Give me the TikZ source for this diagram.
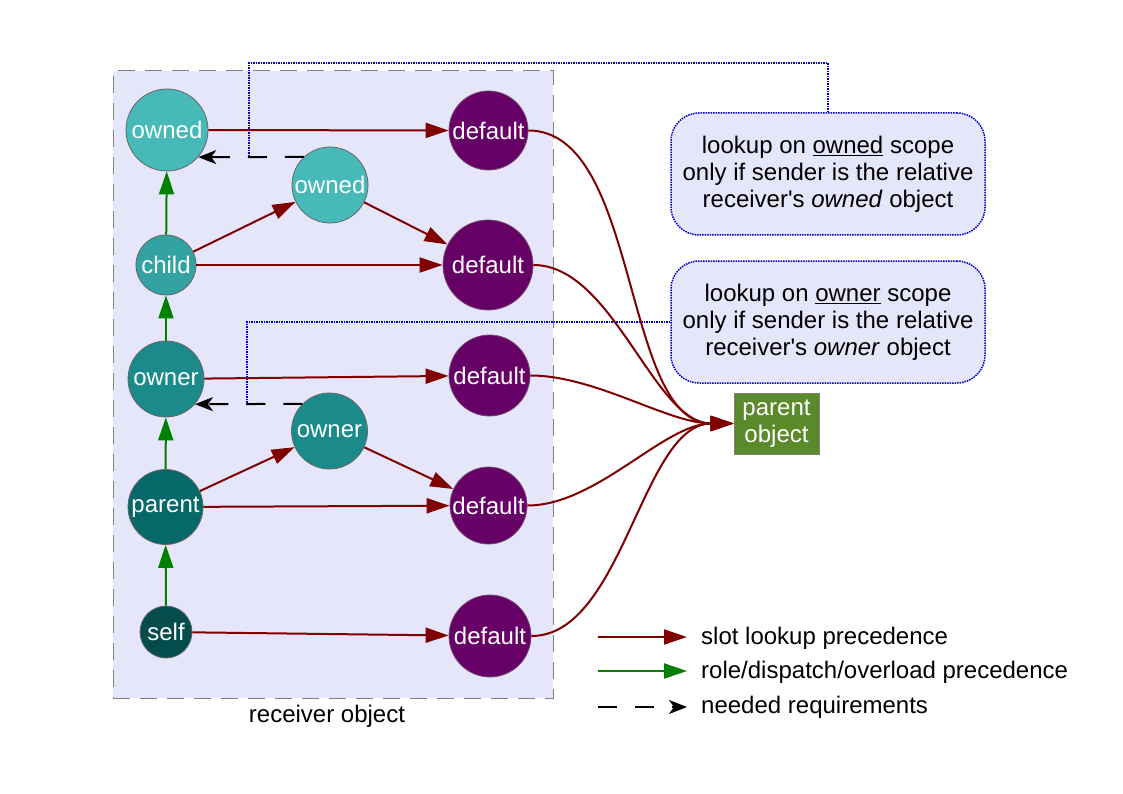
\documentclass[tikz,border=0pt]{standalone}
\usepackage{fontspec}
\setmainfont{Liberation Sans}
\usetikzlibrary{arrows.meta}
\definecolor{boxfill}{HTML}{E6E6FA}
\definecolor{ownedc}{HTML}{48B9B9}
\definecolor{childc}{HTML}{33A2A2}
\definecolor{ownerc}{HTML}{1A8A8A}
\definecolor{parentc}{HTML}{066868}
\definecolor{selfc}{HTML}{054D4D}
\definecolor{defc}{HTML}{660066}
\definecolor{poc}{HTML}{5A8A2A}
\definecolor{lookred}{HTML}{800000}
\definecolor{rolegreen}{HTML}{008000}
\definecolor{dotblue}{HTML}{0000CC}
\tikzset{
  every node/.style={font=\fontsize{24}{27}\selectfont},
  cnode/.style={circle, draw=gray!80!black, line width=0.8pt, inner sep=0pt, text=white},
  defnode/.style={cnode, fill=defc, draw=gray!60!defc},
  redarr/.style={draw=lookred, line width=2pt, -{Triangle[length=23pt,width=15pt]}},
  greenarr/.style={draw=rolegreen, line width=2pt, -{Triangle[length=23pt,width=15pt]}},
  needarr/.style={draw=black, line width=2pt, dash pattern=on 19pt off 18pt, -{Stealth[length=18pt,width=14pt,inset=5pt]}},
  bluedot/.style={draw=dotblue, line width=1.5pt, dash pattern=on 1.5pt off 1pt},
  callout/.style={draw=dotblue, line width=1.5pt, dash pattern=on 1.5pt off 1pt, fill=boxfill, rounded corners=28pt, minimum width=314pt, minimum height=122pt, align=center, text=black},
}
\begin{document}
\begin{tikzpicture}[x=1pt,y=-1pt]
\useasboundingbox (0,0) rectangle (1123,794);
\fill[white] (0,0) rectangle (1123,794);
% receiver box
\node[draw=gray, fill=boxfill, line width=1pt, dash pattern=on 17pt off 10pt, minimum width=440pt, minimum height=627pt, inner sep=0pt] (recv) at (333,384.5) {};
\node (recvlabel) at (327,716) {receiver object};
% callouts and blue dotted connectors
\node[callout] (call1) at (828,174) {lookup on \underline{owned} scope\\only if sender is the relative\\receiver\textquotesingle s \emph{owned} object};
\node[callout] (call2) at (828,322) {lookup on \underline{owner} scope\\only if sender is the relative\\receiver\textquotesingle s \emph{owner} object};
\coordinate (k1) at (249,63);
\coordinate (k1e) at (249,157);
\coordinate (k2e) at (247,404);
\draw[bluedot] (call1.north) |- (k1) -- (k1e);
\draw[bluedot] (call2.west) -| (k2e);
% circles
\node[cnode, fill=ownedc, minimum size=82pt] (owned1) at (167,130) {owned};
\node[cnode, fill=ownedc, minimum size=76pt] (owned2) at (330,185) {owned};
\node[cnode, fill=childc, minimum size=60pt] (child) at (166,265) {child};
\node[cnode, fill=ownerc, minimum size=76pt] (owner1) at (166,379) {owner};
\node[cnode, fill=ownerc, minimum size=76pt] (owner2) at (329.5,431) {owner};
\node[cnode, fill=parentc, minimum size=75pt] (parent) at (165.5,507) {parent};
\node[cnode, fill=selfc, minimum size=52pt] (self) at (166,632) {self};
\node[defnode, minimum size=79pt] (d1) at (488.5,130.5) {default};
\node[defnode, minimum size=90pt] (d2) at (488,265) {default};
\node[defnode, minimum size=81pt] (d3) at (489.5,375.5) {default};
\node[defnode, minimum size=77pt] (d4) at (488.5,505.5) {default};
\node[defnode, minimum size=82pt] (d5) at (490,636) {default};
\node[draw=gray, fill=poc, line width=0.8pt, minimum width=85pt, minimum height=61pt, inner sep=2pt, align=center, text=white] (po) at (776.5,423.5) {\raisebox{-3pt}{parent}\\\raisebox{-3pt}{object}};
% green arrows
\draw[greenarr] (self) -- (parent);
\draw[greenarr] (parent) -- (owner1);
\draw[greenarr] (owner1) -- (child);
\draw[greenarr] (child) -- (owned1);
% red arrows
\draw[redarr] (owned1) -- (d1);
\draw[redarr] (child) -- (owned2);
\draw[redarr] (owned2) -- (d2);
\draw[redarr] (child) -- (d2);
\draw[redarr] (owner1) -- (d3);
\draw[redarr] (parent) -- (owner2);
\draw[redarr] (owner2) -- (d4);
\draw[redarr] (parent) -- (d4);
\draw[redarr] (self) -- (d5);
% dashed requirement arrows
\draw[needarr] (owned2.133) -- (owned1.-41);
\draw[needarr] (owner2.135) -- (owner1.-41);
% curves to parent object
\foreach \d in {d1,d2,d3,d4,d5}{
  \draw[redarr] (\d.east) to[out=0,in=180,looseness=0.8] (po.west);
}
% legend
\coordinate (l1a) at (598,637); \coordinate (l1b) at (687,637);
\coordinate (l2a) at (598,671); \coordinate (l2b) at (687,671);
\coordinate (l3a) at (598,707); \coordinate (l3b) at (687,707);
\draw[redarr] (l1a) -- (l1b);
\draw[greenarr] (l2a) -- (l2b);
\draw[needarr] (l3a) -- (l3b);
\node[anchor=west, inner sep=0pt] (t1) at (701,638) {slot lookup precedence};
\node[anchor=west, inner sep=0pt] (t2) at (701,672) {role/dispatch/overload precedence};
\node[anchor=west, inner sep=0pt] (t3) at (701,707) {needed requirements};
\end{tikzpicture}
\end{document}
